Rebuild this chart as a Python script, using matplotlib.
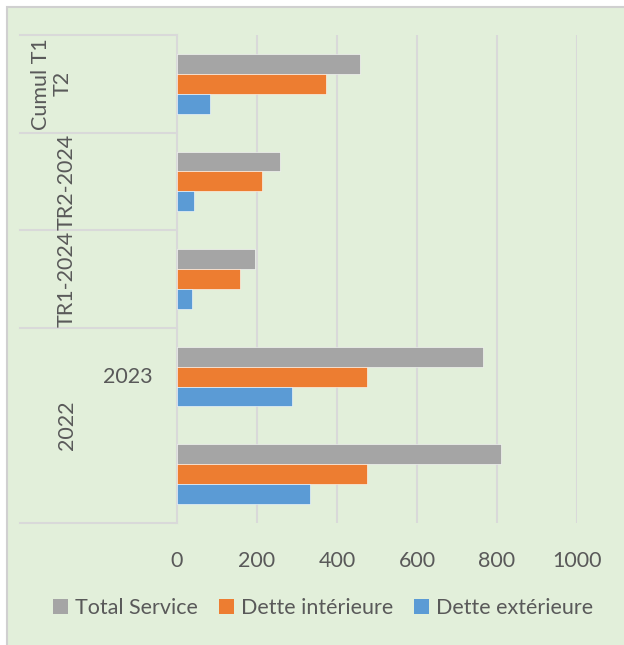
import matplotlib
matplotlib.use("Agg")
import matplotlib.pyplot as plt
import matplotlib.transforms as mtransforms
from matplotlib.patches import Rectangle, Patch
import numpy as np

plt.rcParams['font.family'] = ['Lato', 'DejaVu Sans']

# data (bottom to top)
categories = ['2022', '2023', 'TR1-2024', 'TR2-2024', 'Cumul T1\nT2']
total_service = [810, 765, 196, 257, 457]
dette_interieure = [475, 475, 157, 212, 372]
dette_exterieure = [332, 288, 37, 43, 82]
series_names = ['Total Service', 'Dette intérieure', 'Dette extérieure']
colors = ['#A5A5A5', '#ED7D31', '#5B9BD5']
txt = '#595959'
grid = '#D9D9D9'
green = '#E2EFDA'
fs = 15.5

W, H = 624, 645
fig = plt.figure(figsize=(W / 100, H / 100), dpi=100, facecolor='white')
fig.patches.append(Rectangle((6.5 / W, -0.1), 1.2, 1.1 - 6.5 / H,
                             transform=fig.transFigure, facecolor=green,
                             edgecolor='#D0D0D0', linewidth=1.5, zorder=-5))

ax = fig.add_axes([177 / W, 1 - 523 / H, 400 / W, (523 - 35) / H])
ax.set_facecolor('none')

y = np.arange(len(categories))
h = 0.204
for vals, off, c in zip([total_service, dette_interieure, dette_exterieure], [h, 0, -h], colors):
    ax.barh(y + off, vals, height=h, color=c, edgecolor='white', linewidth=0.4, zorder=3)

ax.set_xlim(0, 1000)
ax.set_ylim(-0.5, 4.5)
ax.set_xticks([0, 200, 400, 600, 800, 1000])
ax.tick_params(axis='x', length=0, pad=20, labelsize=fs, labelcolor=txt)
ax.set_yticks([])
for x in [200, 400, 600, 800, 1000]:
    ax.axvline(x, color=grid, lw=1.5, zorder=1)
for s in ['top', 'right', 'bottom']:
    ax.spines[s].set_visible(False)
ax.spines['left'].set_color(grid)
ax.spines['left'].set_linewidth(1.5)

# multi-level category separators
trans = mtransforms.blended_transform_factory(ax.transAxes, ax.transData)
for b in [4.5, 3.5, 2.5, 1.5, -0.5]:
    ax.plot([-157 / 400, 0], [b, b], transform=trans, color=grid, lw=1.5, clip_on=False)

ax.text(-125 / 400, 4, categories[4], transform=trans, rotation=90, ha='center', va='center',
        multialignment='center', fontsize=fs, color=txt, linespacing=1.1)
ax.text(-110 / 400, 3, categories[3], transform=trans, rotation=90, ha='center', va='center',
        fontsize=fs, color=txt)
ax.text(-110 / 400, 2, categories[2], transform=trans, rotation=90, ha='center', va='center',
        fontsize=fs, color=txt)
ax.text(-110 / 400, 0.5, categories[0], transform=trans, rotation=90, ha='center', va='center',
        fontsize=fs, color=txt)
ax.text(-24 / 400, 1, categories[1], transform=trans, ha='right', va='center',
        fontsize=fs, color=txt)

handles = [Patch(facecolor=c, edgecolor='none') for c in colors]
fig.legend(handles, series_names, loc='center', bbox_to_anchor=(323 / W, 1 - 608 / H),
           ncol=3, frameon=False, fontsize=fs, labelcolor=txt, handlelength=0.7,
           handleheight=0.7, handletextpad=0.3, columnspacing=1.0)

fig.savefig('out.png', dpi=100, facecolor='white')
